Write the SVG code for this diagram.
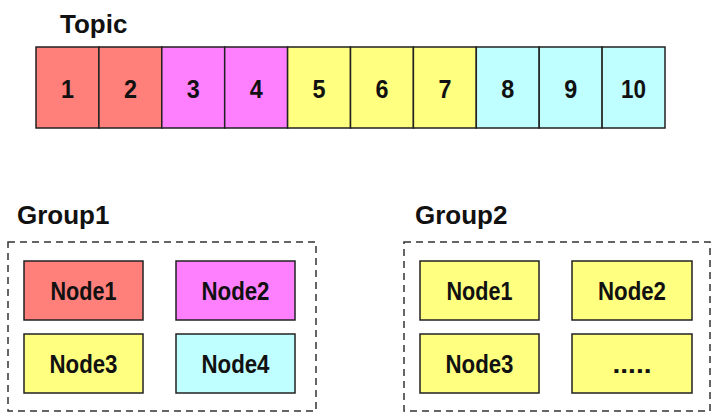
<svg xmlns="http://www.w3.org/2000/svg" width="712" height="413" viewBox="0 0 712 413">
<style>
.cell{stroke:#222;stroke-width:1.5}
.r{fill:#FF7F7A}.m{fill:#FF80FF}.y{fill:#FFFF80}.c{fill:#C0FFFF}
.num{font-family:"Liberation Sans",Arial,sans-serif;font-weight:bold;font-size:26px;fill:#111;text-anchor:middle}
.lbl{font-family:"Liberation Sans",Arial,sans-serif;font-weight:bold;font-size:26px;fill:#111}
.nt{font-family:"Liberation Sans",Arial,sans-serif;font-weight:bold;font-size:26.5px;fill:#111;text-anchor:middle}
.grp{fill:none;stroke:#333;stroke-width:1.5;stroke-dasharray:7,5}
</style>
<rect width="712" height="413" fill="#fff"/>
<text class="lbl" x="60" y="33" font-size="27">Topic</text>
<g id="topic">
<rect class="cell r" x="36" y="47" width="62.9" height="81"/>
<rect class="cell r" x="98.9" y="47" width="62.9" height="81"/>
<rect class="cell m" x="161.8" y="47" width="62.9" height="81"/>
<rect class="cell m" x="224.7" y="47" width="62.9" height="81"/>
<rect class="cell y" x="287.6" y="47" width="62.9" height="81"/>
<rect class="cell y" x="350.5" y="47" width="62.9" height="81"/>
<rect class="cell y" x="413.4" y="47" width="62.9" height="81"/>
<rect class="cell c" x="476.3" y="47" width="62.9" height="81"/>
<rect class="cell c" x="539.2" y="47" width="62.9" height="81"/>
<rect class="cell c" x="602.1" y="47" width="62.9" height="81"/>
<text class="num" x="67.5" y="98" textLength="13" lengthAdjust="spacingAndGlyphs">1</text>
<text class="num" x="130.4" y="98" textLength="13" lengthAdjust="spacingAndGlyphs">2</text>
<text class="num" x="193.3" y="98" textLength="13" lengthAdjust="spacingAndGlyphs">3</text>
<text class="num" x="256.2" y="98" textLength="13" lengthAdjust="spacingAndGlyphs">4</text>
<text class="num" x="319.1" y="98" textLength="13" lengthAdjust="spacingAndGlyphs">5</text>
<text class="num" x="382" y="98" textLength="13" lengthAdjust="spacingAndGlyphs">6</text>
<text class="num" x="444.9" y="98" textLength="13" lengthAdjust="spacingAndGlyphs">7</text>
<text class="num" x="507.8" y="98" textLength="13" lengthAdjust="spacingAndGlyphs">8</text>
<text class="num" x="570.7" y="98" textLength="13" lengthAdjust="spacingAndGlyphs">9</text>
<text class="num" x="633.6" y="98" textLength="25" lengthAdjust="spacingAndGlyphs">10</text>
</g>
<g id="group1">
<text class="lbl" x="17" y="224">Group1</text>
<rect class="grp" x="8" y="242" width="308" height="169"/>
</g>
<g id="g1node1"><rect class="cell r" x="24" y="261" width="119" height="59"/><text class="nt" x="83.5" y="300" textLength="66" lengthAdjust="spacingAndGlyphs">Node1</text></g>
<g id="g1node2"><rect class="cell m" x="176" y="261" width="119" height="59"/><text class="nt" x="235.5" y="300" textLength="68" lengthAdjust="spacingAndGlyphs">Node2</text></g>
<g id="g1node3"><rect class="cell y" x="24" y="334" width="119" height="59"/><text class="nt" x="83.5" y="373" textLength="68" lengthAdjust="spacingAndGlyphs">Node3</text></g>
<g id="g1node4"><rect class="cell c" x="176" y="334" width="119" height="59"/><text class="nt" x="235.5" y="373" textLength="68" lengthAdjust="spacingAndGlyphs">Node4</text></g>
<g id="group2">
<text class="lbl" x="415" y="224">Group2</text>
<rect class="grp" x="404" y="242" width="306" height="169"/>
</g>
<g id="g2node1"><rect class="cell y" x="420" y="261" width="119" height="59"/><text class="nt" x="479.5" y="300" textLength="66" lengthAdjust="spacingAndGlyphs">Node1</text></g>
<g id="g2node2"><rect class="cell y" x="572" y="261" width="120" height="59"/><text class="nt" x="632" y="300" textLength="68" lengthAdjust="spacingAndGlyphs">Node2</text></g>
<g id="g2node3"><rect class="cell y" x="420" y="334" width="119" height="59"/><text class="nt" x="479.5" y="373" textLength="68" lengthAdjust="spacingAndGlyphs">Node3</text></g>
<g id="g2node4"><rect class="cell y" x="572" y="334" width="120" height="59"/><text class="nt" x="632" y="373" textLength="39" lengthAdjust="spacingAndGlyphs">.....</text></g>
<g id="connectors"/>
</svg>
